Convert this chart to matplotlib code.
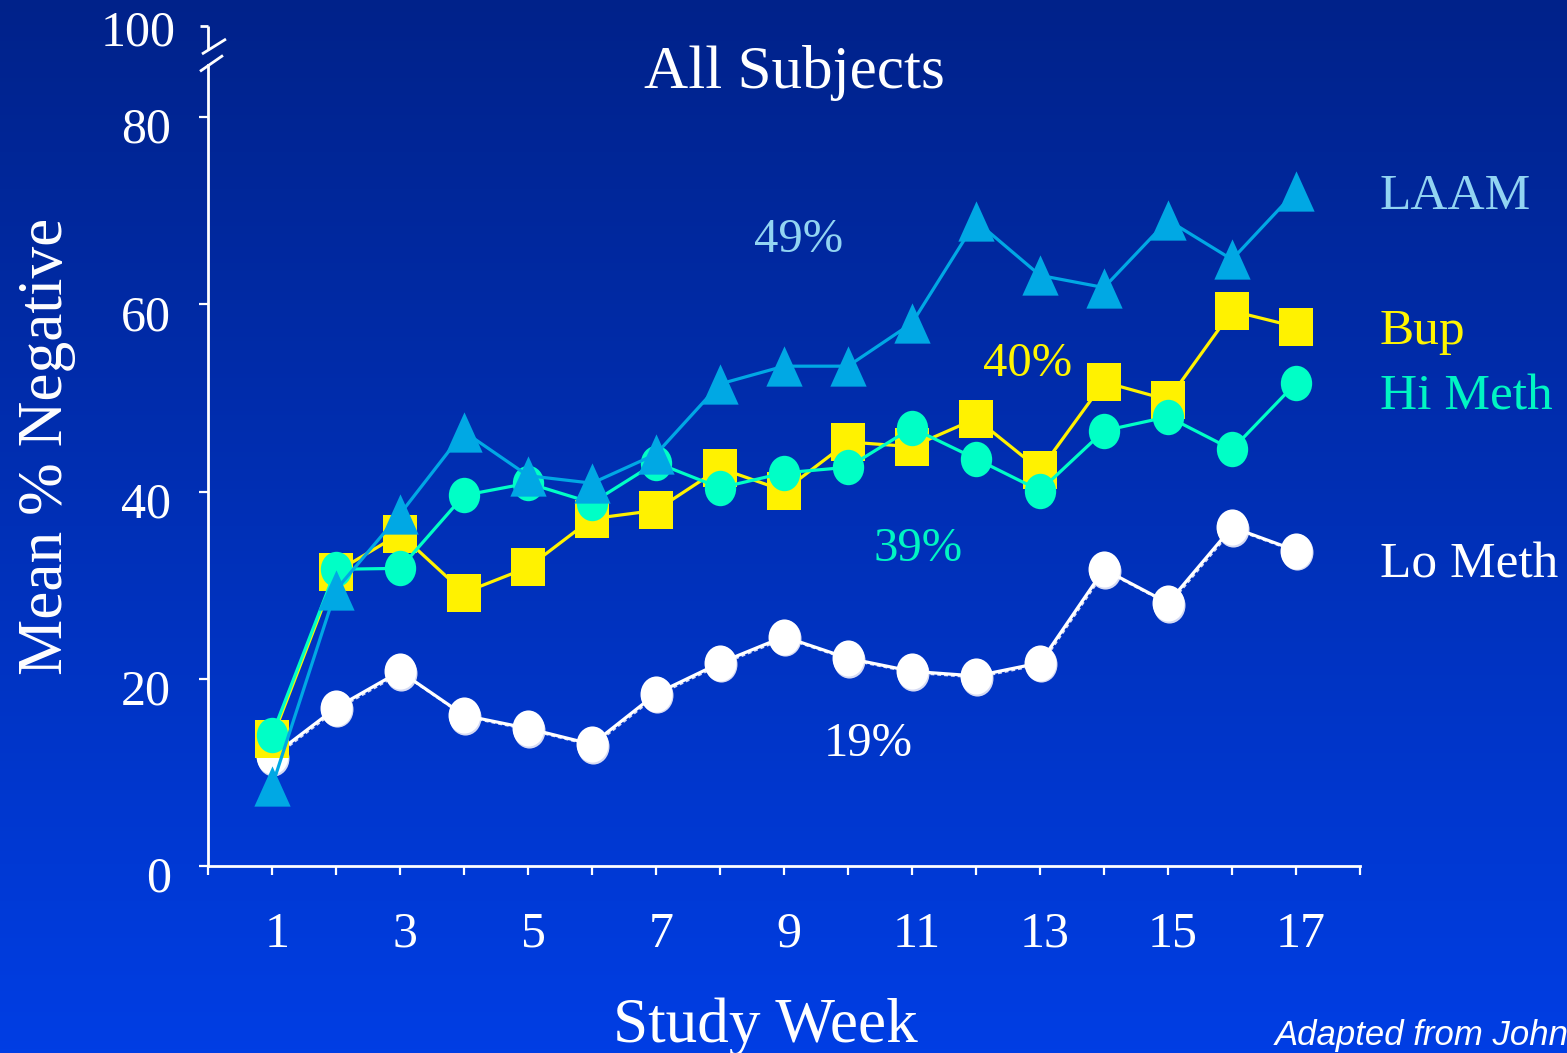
import numpy as np
import matplotlib
matplotlib.use("Agg")
import matplotlib.pyplot as plt
from matplotlib.path import Path
from matplotlib.transforms import ScaledTranslation

# ---- data -------------------------------------------------------------
weeks = list(range(1, 18))
laam = [8.5, 29.5, 37.6, 46.4, 41.7, 40.9, 44.0, 51.5, 53.4, 53.4,
        58.0, 68.9, 63.1, 61.8, 69.0, 64.8, 72.1]
bup = [13.6, 31.4, 35.5, 29.2, 31.9, 37.1, 38.0, 42.5, 40.1, 45.3,
       44.8, 47.8, 42.3, 51.7, 49.8, 59.3, 57.6]
hi_meth = [14.0, 31.7, 31.8, 39.6, 40.9, 38.8, 43.1, 40.4, 42.0, 42.6,
           46.8, 43.5, 40.1, 46.5, 48.0, 44.5, 51.6]
lo_meth = [11.7, 16.9, 20.8, 16.1, 14.7, 13.0, 18.4, 21.7, 24.5, 22.2,
           20.8, 20.3, 21.7, 31.7, 28.1, 36.2, 33.7]

series_names = ["LAAM", "Bup", "Hi Meth", "Lo Meth"]
overall_pct = ["49%", "40%", "39%", "19%"]
y_ticks = [0, 20, 40, 60, 80]
y_tick_labels = ["0", "20", "40", "60", "80"]
x_tick_labels = [str(w) if w % 2 == 1 and w <= 17 else "" for w in range(0, 19)]
top_label = "100"

# ---- style ------------------------------------------------------------
plt.rcParams["font.family"] = ["Liberation Serif", "DejaVu Serif"]
W, H = 1567, 1053
fig = plt.figure(figsize=(W / 100, H / 100), dpi=100)

# gradient background
bg = fig.add_axes([0, 0, 1, 1], zorder=-10)
top_col = np.array([0, 34, 138]) / 255
bot_col = np.array([0, 62, 228]) / 255
t = np.linspace(0, 1, 256)[:, None]
grad = top_col[None, :] * (1 - t) + bot_col[None, :] * t
bg.imshow(grad[:, None, :], aspect="auto", extent=[0, 1, 0, 1])
bg.set_axis_off()

ax = fig.add_axes([208 / W, (H - 866) / H, 1152 / W, (866 - 23.6) / H])
ax.set_facecolor("none")
ax.set_xlim(0, 18)
ax.set_ylim(0, 90)

c_laam = "#00A8E4"
c_bup = "#FFF200"
c_hi = "#00FFC6"
c_lo = "#FFFFFF"


def stretched(path, sy):
    v = path.vertices.copy()
    v[:, 1] *= sy
    return Path(v, path.codes)


ellipse = stretched(Path.unit_circle(), 1.13)
square = Path([(-1, -1.125), (1, -1.125), (1, 1.125), (-1, 1.125), (-1, -1.125)],
              [Path.MOVETO, Path.LINETO, Path.LINETO, Path.LINETO, Path.CLOSEPOLY])
triangle = Path([(0, 1.11), (-1, -1.11), (1, -1.11), (0, 1.11)],
                [Path.MOVETO, Path.LINETO, Path.LINETO, Path.CLOSEPOLY])

lw = 2.3
# Lo Meth with a soft drop shadow
shadow = ax.transData + ScaledTranslation(1.2 / 100, -1.6 / 100, fig.dpi_scale_trans)
ax.plot(weeks, lo_meth, color="#D6DBF4", lw=1.4, ls=(0, (2, 1.5)), marker=ellipse,
        ms=26, mew=0, transform=shadow, zorder=2, clip_on=False)
ax.plot(weeks, lo_meth, color=c_lo, lw=lw, marker=ellipse, ms=26,
        mew=0, zorder=3, clip_on=False)
ax.plot(weeks, bup, color=c_bup, lw=lw, marker=square, ms=27,
        mew=0, zorder=4, clip_on=False)
ax.plot(weeks, hi_meth, color=c_hi, lw=lw, marker=ellipse, ms=25.5,
        mew=0, zorder=5, clip_on=False)
ax.plot(weeks, laam, color=c_laam, lw=lw, marker=triangle, ms=29,
        mew=0, zorder=6, clip_on=False)

# ---- axes & ticks -----------------------------------------------------
for s in ["top", "right"]:
    ax.spines[s].set_visible(False)
for s in ["left", "bottom"]:
    ax.spines[s].set_color("white")
    ax.spines[s].set_linewidth(2)
ax.spines["bottom"].set_bounds(0, 18)
ax.spines["left"].set_bounds(0, 85.6)

ax.set_xticks(range(0, 19))
ax.set_xticklabels(x_tick_labels)
ax.set_yticks(y_ticks)
ax.set_yticklabels(y_tick_labels)
ax.tick_params(axis="both", direction="out", length=6.5, width=1.6,
               colors="white", labelsize=36)
ax.tick_params(axis="x", pad=26)
ax.tick_params(axis="y", pad=20)
for lab in ax.get_xticklabels():
    lab.set_transform(lab.get_transform()
                      + ScaledTranslation(5 / 100, 0, fig.dpi_scale_trans))
for lab in ax.get_yticklabels():
    lab.set_transform(lab.get_transform()
                      + ScaledTranslation(0, -8 / 100, fig.dpi_scale_trans))

# axis break near the top of the value axis
brk = dict(color="white", lw=2, clip_on=False, solid_capstyle="butt")
ax.plot([0, 0], [87.2, 89.74], **brk)
ax.plot([-8 / 64, 0], [89.74, 89.74], **brk)
ax.plot([-0.125, 0.234], [84.9, 86.6], **brk)
ax.plot([-0.094, 0.281], [86.75, 88.35], **brk)
ax.annotate(top_label, xy=(0, 89.74), xytext=(-32, -19), textcoords="offset pixels",
            ha="right", va="baseline", color="white", fontsize=36,
            annotation_clip=False)

# ---- titles -----------------------------------------------------------
fig.text(794 / W, 1 - 88 / H, "All Subjects", ha="center", va="baseline",
         color="white", fontsize=44)
fig.text(765 / W, 1 - 1042 / H, "Study Week", ha="center", va="baseline",
         color="white", fontsize=45.5)
fig.text(62 / W, 1 - 446 / H, "Mean % Negative", ha="center", va="baseline",
         rotation=90, rotation_mode="anchor", color="white", fontsize=45.5)

# series names on the right
name_colors = ["#92D4F2", "#FFF500", "#00F5C3", "#FFFFFF"]
name_y = [70.2, 55.8, 48.8, 30.8]
for name, col, yv in zip(series_names, name_colors, name_y):
    ax.text(18.31, yv, name, color=col, fontsize=37, ha="left",
            va="baseline", clip_on=False)

# overall percentages
pct_colors = ["#92D4F2", "#FFF500", "#00F5C3", "#FFFFFF"]
pct_pos = [(9.22, 65.6), (12.81, 52.4), (11.09, 32.6), (10.31, 11.75)]
for txt, col, (xv, yv) in zip(overall_pct, pct_colors, pct_pos):
    ax.text(xv, yv, txt, color=col, fontsize=35, ha="center", va="baseline")

fig.text(1275 / W, 1 - 1045 / H, "Adapted from Johnson et al., 2000",
         family="Liberation Sans", style="italic", color="white",
         fontsize=25, ha="left", va="baseline")

fig.savefig("out.png", dpi=100)
